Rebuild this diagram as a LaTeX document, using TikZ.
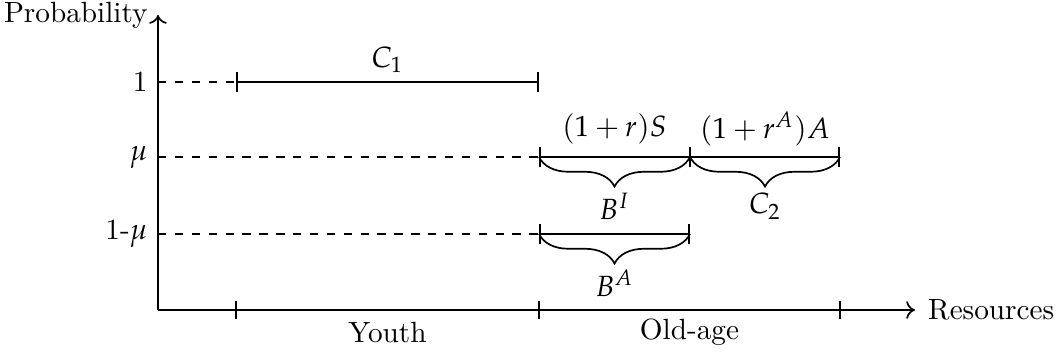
\documentclass[tikz,border=0pt]{standalone}
\usepackage{mathpazo}
\usetikzlibrary{arrows.meta, decorations.pathreplacing, positioning}

\begin{document}
\begin{tikzpicture}[
        x=0.0125cm, y=-0.0125cm,
        every node/.style={font=\fontsize{10.4}{12.5}\selectfont},
        axis/.style={semithick, -{To[length=1.1mm, width=2.2mm]}},
        tick/.style={semithick},
        guide/.style={semithick, dashed},
        span/.style={semithick, {Bar[width=2.5mm]}-{Bar[width=2.5mm]}},
        brc/.style={semithick, decorate, decoration={brace, mirror, amplitude=10.5pt}},
        lab/.style={inner sep=1pt}
    ]
        \useasboundingbox (0,0) rectangle (1061,354);

        % axes
        \coordinate (O) at (158,310);
        \coordinate (ytop) at (158,15);
        \coordinate (xend) at (915,310);
        \draw[axis] (O) -- (ytop);
        \draw[axis] (O) -- (xend);
        \node[anchor=east, inner sep=3.5pt] (ylab) at (ytop) {Probability};
        \node[anchor=west, inner sep=4.5pt] (xlab) at (xend) {Resources};

        % ticks on the resource axis
        \coordinate (t1) at (236,310);
        \coordinate (t2) at (539,310);
        \coordinate (t3) at (840,310);
        \foreach \t in {t1,t2,t3}
            \draw[tick] (\t) ++(0,-9) -- ++(0,18);
        \path (t1) -- node[lab, yshift=-8pt] (youth) {Youth} (t2);
        \path (t2) -- node[lab, yshift=-8pt] (old) {Old-age} (t3);

        % probability levels
        \coordinate (p1) at (158,82);
        \coordinate (pmu) at (158,157);
        \coordinate (pnmu) at (158,234);
        \node[anchor=east, inner sep=3.5pt] (l1) at (p1) {1};
        \node[anchor=east, inner sep=3.5pt] (lmu) at (pmu) {$\mu$};
        \node[anchor=east, inner sep=3.5pt] (lnmu) at (pnmu) {1-$\mu$};

        % youth consumption
        \coordinate (a1) at (236,82);
        \coordinate (b1) at (539,82);
        \draw[guide] (p1) -- (a1);
        \draw[span] (a1) -- node[lab, yshift=8pt] (c1) {$C_1$} (b1);

        % old age, survival
        \coordinate (m0) at (539,157);
        \coordinate (m1) at (690,157);
        \coordinate (m2) at (840,157);
        \draw[guide] (pmu) -- (m0);
        \draw[span] (m0) -- (m2);
        \draw[tick] (m1) ++(0,-10) -- ++(0,20);
        \path (m0) -- node[lab, yshift=10pt] (sav) {$(1+r)S$} (m1);
        \path (m1) -- node[lab, yshift=10pt] (ann) {$(1+r^A)A$} (m2);
        \draw[brc] (m0) -- node[lab, yshift=-17.5pt] (bi) {$B^I$} (m1);
        \draw[brc] (m1) -- node[lab, yshift=-17.5pt] (c2) {$C_2$} (m2);

        % old age, death
        \coordinate (n0) at (539,234);
        \coordinate (n1) at (690,234);
        \draw[guide] (pnmu) -- (n0);
        \draw[span] (n0) -- (n1);
        \draw[brc] (n0) -- node[lab, yshift=-17.5pt] (ba) {$B^A$} (n1);
    \end{tikzpicture}
\end{document}
